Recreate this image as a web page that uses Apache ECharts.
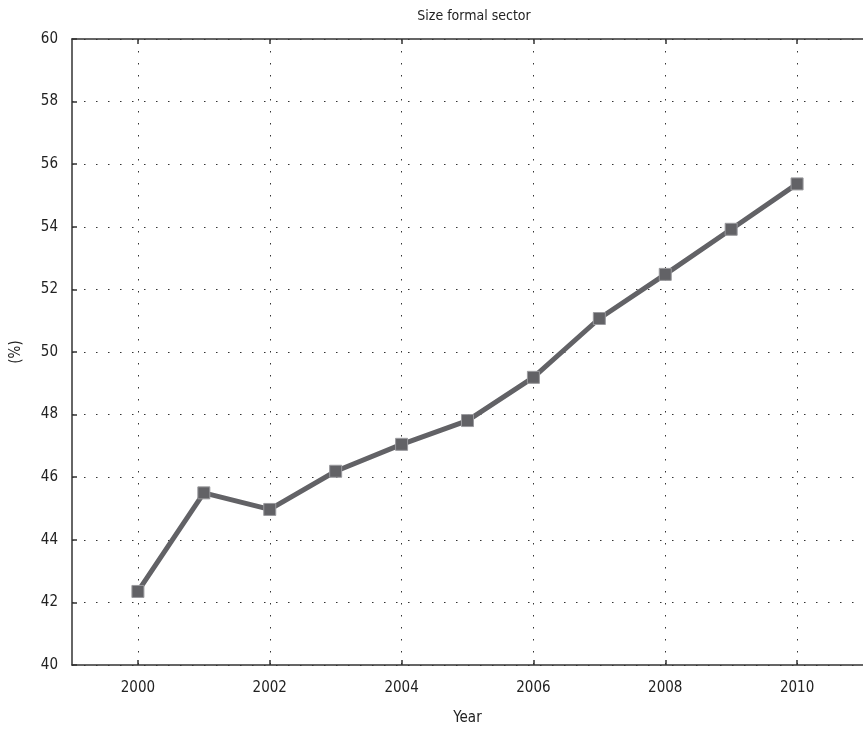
<!DOCTYPE html>
<html><head><meta charset="utf-8">
<script src="https://cdn.jsdelivr.net/npm/echarts@6/dist/echarts.min.js"></script>
<style>html,body{margin:0;padding:0;background:#fff}#c{width:863px;height:731px}</style>
</head><body><div id="c"></div>
<script>
var axisYears = ['1999','2000','2001','2002','2003','2004','2005','2006','2007','2008','2009','2010','2011'];
var years = ['2000','2001','2002','2003','2004','2005','2006','2007','2008','2009','2010'];
var formalSize = [42.35, 45.5, 44.97, 46.19, 47.05, 47.81, 49.19, 51.07, 52.48, 53.92, 55.37];
var titleText = 'Size formal sector';
var xName = 'Year';
var yName = '(%)';

var FONT = '"Liberation Sans Narrow", "DejaVu Sans Condensed", "Open Sans", sans-serif';
var showEven = function (i, v) { return (parseInt(v, 10) % 2) === 0; };
var chart = echarts.init(document.getElementById('c'));
chart.setOption({
  animation: false,
  backgroundColor: '#fff',
  title: { text: titleText, left: 469, top: 4, textAlign: 'center',
    textStyle: { fontFamily: FONT, fontSize: 14, fontWeight: 'normal', color: '#222' } },
  grid: { left: 72, top: 39, right: -6, bottom: 61, containLabel: false },
  xAxis: [{
    type: 'category', data: axisYears, boundaryGap: false,
    name: xName, nameLocation: 'middle', nameGap: 46,
    nameTextStyle: { fontFamily: FONT, fontSize: 15, color: '#222' },
    axisLine: { show: true, onZero: false, lineStyle: { color: '#333', width: 1.5 } },
    axisTick: { show: true, inside: true, length: 5, interval: showEven, lineStyle: { color: '#333', width: 1.5 } },
    axisLabel: { interval: showEven, margin: 16, fontFamily: FONT, fontSize: 15, color: '#222' },
    splitLine: { show: true, interval: showEven, lineStyle: { color: '#333', type: [1.5, 10.5], width: 1 } }
  }, {
    type: 'category', data: axisYears, boundaryGap: false, position: 'top',
    axisLine: { show: true, onZero: false, lineStyle: { color: '#333', width: 1.5 } },
    axisTick: { show: true, inside: true, length: 5, interval: showEven, lineStyle: { color: '#333', width: 1.5 } },
    axisLabel: { show: false }, splitLine: { show: false }
  }],
  yAxis: {
    type: 'value', min: 40, max: 60, interval: 2,
    name: yName, nameLocation: 'middle', nameGap: 48, nameRotate: 90,
    nameTextStyle: { fontFamily: FONT, fontSize: 15, color: '#222' },
    axisLine: { show: true, onZero: false, lineStyle: { color: '#333', width: 1.5 } },
    axisTick: { show: true, inside: true, length: 5, lineStyle: { color: '#333', width: 1.5 } },
    axisLabel: { margin: 14, fontFamily: FONT, fontSize: 15, color: '#222' },
    splitLine: { show: true, lineStyle: { color: '#333', type: [1.5, 10.5], width: 1 } }
  },
  series: [{
    type: 'line',
    data: years.map(function (y, i) { return [y, formalSize[i]]; }),
    symbol: 'rect', symbolSize: 12,
    lineStyle: { color: '#626266', width: 5 },
    itemStyle: { color: '#626266', borderColor: '#9a9a9e', borderWidth: 1 },
    z: 5
  }]
});
</script></body></html>
